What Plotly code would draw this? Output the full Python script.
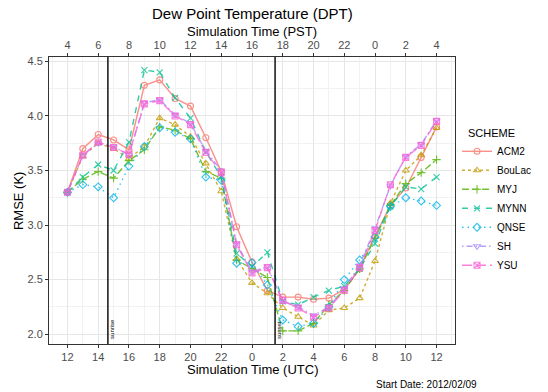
import plotly.graph_objects as go

# ---------------- data ----------------
hours = list(range(12, 37))  # simulation hours (UTC), 12 -> 12 next day

acm2   = [3.30, 3.70, 3.83, 3.78, 3.69, 4.28, 4.33, 4.16, 4.09, 3.80, 3.49, 2.985, 2.66, 2.40, 2.34, 2.34, 2.32, 2.33, 2.41, 2.60, 2.90, 3.18, 3.34, 3.62, 3.90]
boulac = [3.30, 3.63, 3.75, 3.70, 3.61, 3.72, 3.98, 3.92, 3.81, 3.565, 3.31, 2.69, 2.47, 2.375, 2.24, 2.16, 2.08, 2.22, 2.24, 2.33, 2.67, 3.20, 3.50, 3.64, 3.89]
myj    = [3.30, 3.42, 3.49, 3.43, 3.59, 3.69, 3.90, 3.87, 3.79, 3.49, 3.43, 2.68, 2.60, 2.52, 2.03, 2.03, 2.10, 2.27, 2.40, 2.60, 2.88, 3.18, 3.38, 3.48, 3.60]
mynn   = [3.30, 3.44, 3.555, 3.50, 3.76, 4.42, 4.40, 4.165, 3.98, 3.67, 3.44, 2.74, 2.62, 2.75, 2.30, 2.27, 2.34, 2.40, 2.44, 2.60, 2.83, 3.17, 3.35, 3.33, 3.44]
qnse   = [3.30, 3.37, 3.35, 3.25, 3.54, 3.72, 3.89, 3.85, 3.79, 3.44, 3.41, 2.65, 2.655, 2.45, 2.13, 2.07, 2.10, 2.25, 2.50, 2.68, 2.89, 3.17, 3.25, 3.22, 3.18]
sh     = [3.30, 3.64, 3.75, 3.72, 3.64, 4.12, 4.15, 4.01, 3.93, 3.68, 3.50, 2.83, 2.57, 2.62, 2.30, 2.25, 2.17, 2.25, 2.42, 2.63, 2.97, 3.36, 3.63, 3.74, 3.96]
ysu    = [3.30, 3.64, 3.76, 3.71, 3.65, 4.11, 4.14, 4.00, 3.92, 3.665, 3.48, 2.82, 2.56, 2.61, 2.31, 2.24, 2.155, 2.24, 2.40, 2.61, 2.95, 3.37, 3.62, 3.73, 3.95]

schemes = ["ACM2", "BouLac", "MYJ", "MYNN", "QNSE", "SH", "YSU"]
series = [acm2, boulac, myj, mynn, qnse, sh, ysu]

event_times = [14.63, 25.5]
event_labels = ["sunrise", "sunset"]

utc_ticks = list(range(12, 37, 2))
utc_labels = [str(h % 24) for h in utc_ticks]
pst_labels = [str((h - 8) % 24) for h in utc_ticks]
y_ticks = [2.0, 2.5, 3.0, 3.5, 4.0, 4.5]

# ---------------- styles ----------------
colors = ["#F8766D", "#C49A00", "#53B400", "#00C094", "#00B6EB", "#A58AFF", "#FB61D7"]
dashes = ["solid", "3px,3px", "7px,3px", "6px,6px", "1.5px,4px", "1.5px,3px,6px,3px", "10px,4px"]
symbols = ["circle-open", "triangle-up-open", "cross-thin-open", "x-thin-open",
           "diamond-open", "triangle-down-open", "square-x-open"]

FONT = "Liberation Sans, Arial, sans-serif"

fig = go.Figure()
for name, vals, c, d, s in zip(schemes, series, colors, dashes, symbols):
    fig.add_trace(go.Scatter(
        x=hours, y=vals, name=name, mode="lines+markers",
        line=dict(color=c, width=1.4, dash=d),
        marker=dict(symbol=s, size=6, color=c, line=dict(color=c, width=1.1)),
        opacity=0.8,
    ))

# invisible trace to activate top axis
fig.add_trace(go.Scatter(x=[hours[0], hours[-1]], y=[acm2[0], acm2[-1]], xaxis="x2",
                         mode="markers", marker=dict(opacity=0), showlegend=False,
                         hoverinfo="skip"))

for t, lab in zip(event_times, event_labels):
    fig.add_shape(type="line", xref="x", yref="paper", x0=t, x1=t, y0=0, y1=1,
                  line=dict(color="black", width=1.4))
    fig.add_annotation(x=t, y=0, xref="x", yref="paper", text=lab, textangle=-90,
                       showarrow=False, xshift=4, yshift=3, xanchor="center", yanchor="bottom",
                       font=dict(size=6, color="black", family=FONT))

xr = [10.8, 37.2]
yr = [1.91, 4.54]
grid_major = "#E6E6E6"
grid_minor = "#F2F2F2"

fig.update_layout(
    width=548, height=392,
    margin=dict(l=49, r=74, t=57, b=48),
    paper_bgcolor="white", plot_bgcolor="white",
    font=dict(family=FONT, color="#4D4D4D", size=11),
    showlegend=True,
    legend=dict(x=1.005, xanchor="left", y=0.722, yanchor="top",
                font=dict(size=10, color="black", family=FONT),
                bgcolor="rgba(0,0,0,0)", itemwidth=30, tracegroupgap=0),
    xaxis=dict(range=xr, tickvals=utc_ticks, ticktext=utc_labels, ticks="outside",
               ticklen=3, tickcolor="#333333", showgrid=True, gridcolor=grid_major, gridwidth=1,
               minor=dict(dtick=1, tick0=12, showgrid=True, gridcolor=grid_minor, gridwidth=0.7),
               showline=True, linecolor="#333333", linewidth=1, mirror=True, zeroline=False,
               tickfont=dict(size=11, color="#4D4D4D")),
    xaxis2=dict(range=xr, overlaying="x", side="top", tickvals=utc_ticks, ticktext=pst_labels,
                ticks="outside", ticklen=3, tickcolor="#333333", showgrid=False,
                showline=True, linecolor="#333333", linewidth=1, zeroline=False,
                tickfont=dict(size=11, color="#4D4D4D")),
    yaxis=dict(range=yr, tickvals=y_ticks, ticktext=[f"{v:.1f}" for v in y_ticks],
               ticks="outside", ticklen=3, tickcolor="#333333", showgrid=True,
               gridcolor=grid_major, gridwidth=1,
               minor=dict(dtick=0.25, tick0=2.0, showgrid=True, gridcolor=grid_minor, gridwidth=0.7),
               showline=True, linecolor="#333333", linewidth=1, mirror=True, zeroline=False,
               tickfont=dict(size=11, color="#4D4D4D")),
)

ann = [
    dict(text="Dew Point Temperature (DPT)", x=0.5, y=1.153, size=15),
    dict(text="Simulation Time (PST)", x=0.5, y=1.088, size=13),
    dict(text="Simulation Time (UTC)", x=0.5, y=-0.09, size=13),
]
for a in ann:
    fig.add_annotation(text=a["text"], x=a["x"], y=a["y"], xref="paper", yref="paper",
                       showarrow=False, xanchor="center", yanchor="middle",
                       font=dict(size=a["size"], color="black", family=FONT))
fig.add_annotation(text="RMSE (K)", x=-0.075, y=0.5, xref="paper", yref="paper", textangle=-90,
                   showarrow=False, xanchor="center", yanchor="middle",
                   font=dict(size=13, color="black", family=FONT))
fig.add_annotation(text="Start Date: 2012/02/09", x=1.058, y=-0.14, xref="paper", yref="paper",
                   showarrow=False, xanchor="right", yanchor="middle",
                   font=dict(size=10, color="black", family=FONT))
fig.add_annotation(text="SCHEME", x=1.026, y=0.735, xref="paper", yref="paper",
                   showarrow=False, xanchor="left", yanchor="middle",
                   font=dict(size=11, color="black", family=FONT))

fig.write_html("out.html")
